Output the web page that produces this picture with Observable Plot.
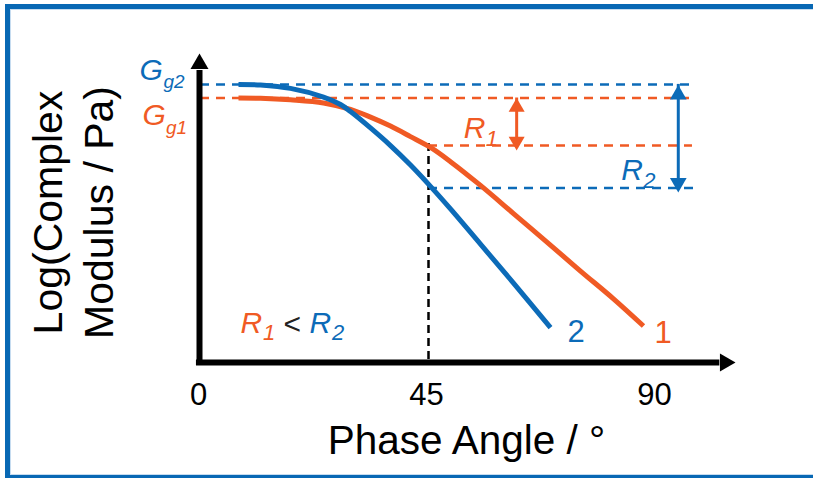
<!DOCTYPE html>
<html><head><meta charset="utf-8">
<script src="https://cdn.jsdelivr.net/npm/d3@7"></script>
<script src="https://cdn.jsdelivr.net/npm/@observablehq/plot@0.6"></script>
<style>
html,body{margin:0;padding:0;background:#fff;}
#wrap{position:relative;width:813px;height:478px;overflow:hidden;}
#chart svg{display:block;}
.bd{position:absolute;width:1000px;box-sizing:border-box;border-right:none;pointer-events:none;}
#outer{left:5px;top:4px;height:476px;border:5px solid #0868b4;border-right:none;}
#inner{left:10px;top:9px;height:466px;border:1.5px solid #c6dcf0;border-right:none;}
</style>
</head><body><div id="wrap"><div id="chart"></div><div class="bd" id="outer"></div><div class="bd" id="inner"></div></div>
<script>
// Curve 1 (orange) and curve 2 (blue): phase angle (deg) vs log complex modulus (arbitrary units)
const phase1   = [7.50, 11.84, 17.76, 24.28, 29.61, 33.55, 37.50, 41.45, 45.39, 49.34, 55.26, 61.78, 68.49, 75.00, 81.51, 87.43];
const modulus1 = [8.56, 8.55, 8.50, 8.40, 8.19, 7.94, 7.65, 7.31, 6.96, 6.50, 5.73, 4.82, 3.88, 2.96, 2.06, 1.18];
const phase2   = [7.50, 11.84, 17.76, 24.28, 27.63, 29.61, 33.55, 37.50, 41.45, 45.39, 49.34, 55.26, 61.78, 69.08];
const modulus2 = [9.00, 8.98, 8.87, 8.59, 8.35, 8.12, 7.59, 7.02, 6.39, 5.70, 4.97, 3.83, 2.57, 1.13];
const xTicks = [0, 45, 90];
const glassyLevel = [8.56, 9.00];   // Gg1, Gg2
const levelAt45 = [7.02, 5.65];     // curve 1, curve 2 at 45°
const refAngle = 45;
const curveLabels = ["1", "2"];

const blue = "#0c6bb8", orange = "#f05a24";
const curve1 = phase1.map((p, i) => ({phase: p, modulus: modulus1[i]}));
const curve2 = phase2.map((p, i) => ({phase: p, modulus: modulus2[i]}));
const font = "'Liberation Sans', Arial, sans-serif";
const dash = {strokeWidth: 2.5, strokeDasharray: "9,7"};
const it = {fontStyle: "italic", textAnchor: "start", lineAnchor: "bottom"};

const chart = Plot.plot({
  width: 813, height: 478, margin: 0,
  x: {domain: [0, 90], range: [200, 656], axis: null},
  y: {domain: [0, 10], range: [362, 53], axis: null},
  style: {fontFamily: font, background: "white", color: "black"},
  marks: [
    // reference dashed lines
    Plot.ruleY([glassyLevel[1]], {x1: 0, x2: 97.3, stroke: blue, ...dash}),
    Plot.ruleY([glassyLevel[0]], {x1: 0, x2: 97.3, stroke: orange, ...dash}),
    Plot.ruleY([levelAt45[0]], {x1: refAngle, x2: 97.1, stroke: orange, ...dash}),
    Plot.ruleY([levelAt45[1]], {x1: refAngle, x2: 98.1, stroke: blue, ...dash}),
    Plot.ruleX([refAngle], {y1: 0, y2: levelAt45[0], stroke: "#000", strokeWidth: 2.5, strokeDasharray: "8,5", dy: -3}),
    // curves
    Plot.line(curve1, {x: "phase", y: "modulus", stroke: orange, strokeWidth: 5, curve: "catmull-rom", strokeLinecap: "butt"}),
    Plot.line(curve2, {x: "phase", y: "modulus", stroke: blue, strokeWidth: 5, curve: "catmull-rom", strokeLinecap: "butt"}),
    // axes
    Plot.ruleX([0], {y1: -0.1, y2: 9.45, stroke: "#000", strokeWidth: 6, dx: -1}),
    Plot.ruleY([0], {x1: -0.8, x2: 102.5, stroke: "#000", strokeWidth: 6}),
    Plot.dot([0], {x: 0, y: 10, symbol: "triangle", r: 6.68, fill: "#000", dy: 10.4, dx: -1}),
    Plot.dot([0], {x: 105.6, y: 0, symbol: "triangle", r: 6.68, fill: "#000", rotate: 90, dx: -10.4}),
    // double arrows
    Plot.ruleX([62.4], {y1: glassyLevel[0], y2: levelAt45[0], stroke: orange, strokeWidth: 3}),
    Plot.dot([0], {x: 62.4, y: glassyLevel[0], symbol: "triangle", r: 5.94, fill: orange, dy: 9.24}),
    Plot.dot([0], {x: 62.4, y: levelAt45[0], symbol: "triangle", r: 5.94, fill: orange, rotate: 180, dy: -4.24}),
    Plot.ruleX([94.3], {y1: glassyLevel[1], y2: levelAt45[1], stroke: blue, strokeWidth: 3}),
    Plot.dot([0], {x: 94.3, y: glassyLevel[1], symbol: "triangle", r: 6.2, fill: blue, dy: 10.2}),
    Plot.dot([0], {x: 94.3, y: levelAt45[1], symbol: "triangle", r: 6.2, fill: blue, rotate: 180, dy: -5}),
    // tick labels
    Plot.text(xTicks, {x: d => d, text: d => String(d), frameAnchor: "bottom", lineAnchor: "bottom", dy: -74, dx: -2, fontSize: 31, fill: "#000"}),
    // axis titles
    Plot.text(["Phase Angle / °"], {frameAnchor: "bottom", lineAnchor: "bottom", textAnchor: "middle", dx: 59.5, dy: -25, fontSize: 40.5, fill: "#000"}),
    Plot.text(["Log(Complex"], {frameAnchor: "left", rotate: -90, textAnchor: "middle", lineAnchor: "bottom", dx: 61, dy: -27, fontSize: 41, fill: "#000"}),
    Plot.text(["Modulus / Pa)"], {frameAnchor: "left", rotate: -90, textAnchor: "middle", lineAnchor: "bottom", dx: 112, dy: -27, fontSize: 41, fill: "#000"}),
    // G labels
    Plot.text(["G"], {x: 0, y: glassyLevel[1], dx: -61, dy: -4, fontSize: 30, fill: blue, ...it}),
    Plot.text(["g2"], {x: 0, y: glassyLevel[1], dx: -37, dy: 3.5, fontSize: 19, fill: blue, ...it}),
    Plot.text(["G"], {x: 0, y: glassyLevel[0], dx: -58, dy: 27.5, fontSize: 30, fill: orange, ...it}),
    Plot.text(["g1"], {x: 0, y: glassyLevel[0], dx: -34.5, dy: 36, fontSize: 19, fill: orange, ...it}),
    // R labels
    Plot.text(["R"], {x: 62.4, y: levelAt45[0], dx: -53, dy: -8, fontSize: 30, fill: orange, ...it}),
    Plot.text(["1"], {x: 62.4, y: levelAt45[0], dx: -31, dy: 0, fontSize: 22, fill: orange, ...it}),
    Plot.text(["R"], {x: 94.3, y: levelAt45[1], dx: -57, dy: -7.5, fontSize: 30, fill: blue, ...it}),
    Plot.text(["2"], {x: 94.3, y: levelAt45[1], dx: -35, dy: 0.5, fontSize: 22, fill: blue, ...it}),
    // R1 < R2
    Plot.text(["R"], {frameAnchor: "top-left", dx: 240, dy: 332, fontSize: 30, fill: orange, ...it}),
    Plot.text(["1"], {frameAnchor: "top-left", dx: 262.5, dy: 339, fontSize: 22, fill: orange, ...it}),
    Plot.text(["<"], {frameAnchor: "top-left", dx: 283, dy: 333, fontSize: 30, fill: "#222", textAnchor: "start", lineAnchor: "bottom"}),
    Plot.text(["R"], {frameAnchor: "top-left", dx: 309, dy: 332, fontSize: 30, fill: blue, ...it}),
    Plot.text(["2"], {frameAnchor: "top-left", dx: 331.5, dy: 339, fontSize: 22, fill: blue, ...it}),
    // curve end labels
    Plot.text([curveLabels[1]], {x: phase2[phase2.length - 1], y: modulus2[modulus2.length - 1], dx: 17, dy: 14, fontSize: 31, fill: blue, textAnchor: "start", lineAnchor: "bottom"}),
    Plot.text([curveLabels[0]], {x: phase1[phase1.length - 1], y: modulus1[modulus1.length - 1], dx: 11, dy: 17, fontSize: 31, fill: orange, textAnchor: "start", lineAnchor: "bottom"})
  ]
});
document.getElementById("chart").append(chart);
</script>
</body></html>
